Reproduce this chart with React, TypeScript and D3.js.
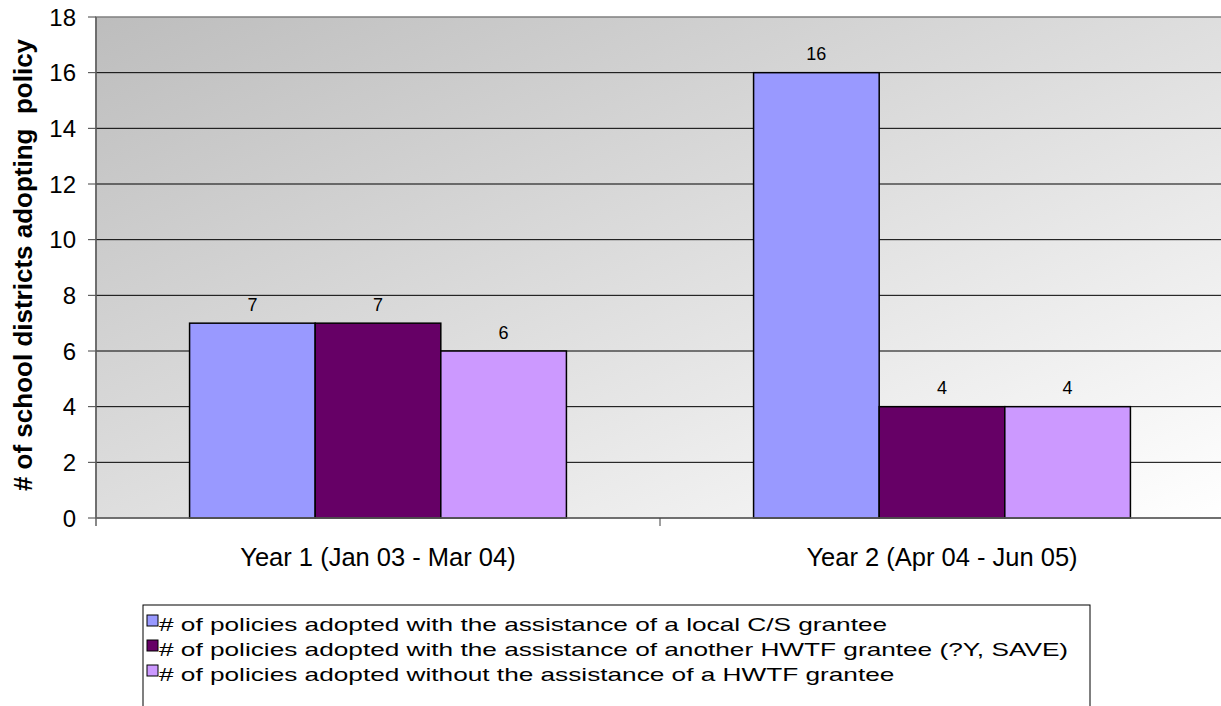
import React from "react";
import * as d3 from "d3";

const categories = ["Year 1 (Jan 03 - Mar 04)", "Year 2 (Apr 04 - Jun 05)"];
const seriesNames = [
  "# of policies adopted with the assistance of a local C/S grantee",
  "# of policies adopted with the assistance of another HWTF grantee (?Y, SAVE)",
  "# of policies adopted without the assistance of a HWTF grantee",
];
const seriesColors = ["#9999FF", "#660066", "#CC99FF"];
const localGrantee = [7, 16];
const otherGrantee = [7, 4];
const noGrantee = [6, 4];
const yTicks = [0, 2, 4, 6, 8, 10, 12, 14, 16, 18];
const yTitle = "# of school districts adopting  policy";

const W = 1221;
const H = 706;
const font = "Arial, 'Liberation Sans', sans-serif";

export default function App() {
  const x0 = 96;
  const x1 = 1224;
  const yTop = 17;
  const yBot = 518;
  const series = [localGrantee, otherGrantee, noGrantee];

  const xScale = d3.scaleBand<string>().domain(categories).range([x0, x1]).paddingInner(0).paddingOuter(0);
  const inner = d3
    .scaleBand<number>()
    .domain([0, 1, 2])
    .range([0, xScale.bandwidth()])
    .paddingOuter(0.745)
    .paddingInner(0);
  const yScale = d3.scaleLinear().domain([0, 18]).range([yBot, yTop]);

  return (
    <svg
      width={W}
      height={H}
      style={{ position: "absolute", left: 0, top: 0, background: "#fff" }}
      fontFamily={font}
    >
      <defs>
        <linearGradient id="bg" x1="0" y1="0" x2="1" y2="1">
          <stop offset="0" stopColor="#bdbdbd" />
          <stop offset="1" stopColor="#ffffff" />
        </linearGradient>
      </defs>
      <rect x={x0} y={yTop} width={x1 - x0} height={yBot - yTop} fill="url(#bg)" stroke="#808080" strokeWidth={1.5} />
      {yTicks.map((t) => (
        <g key={t}>
          {t > 0 && t < 18 && (
            <line x1={x0} x2={x1} y1={yScale(t)} y2={yScale(t)} stroke="#000" strokeWidth={1} />
          )}
          <line x1={88} x2={x0} y1={yScale(t)} y2={yScale(t)} stroke="#404040" strokeWidth={1} />
          <text x={76} y={yScale(t)} dy="0.36em" textAnchor="end" fontSize={24} fill="#000">
            {t}
          </text>
        </g>
      ))}
      {categories.map((c, ci) =>
        series.map((s, si) => {
          const bx = (xScale(c) as number) + (inner(si) as number);
          const by = yScale(s[ci]);
          return (
            <g key={`${ci}-${si}`}>
              <rect
                x={bx}
                y={by}
                width={inner.bandwidth()}
                height={yBot - by}
                fill={seriesColors[si]}
                stroke="#000"
                strokeWidth={1.5}
              />
              <text
                x={bx + inner.bandwidth() / 2}
                y={by - 12.5}
                textAnchor="middle"
                fontSize={18}
                fill="#000"
              >
                {s[ci]}
              </text>
            </g>
          );
        })
      )}
      <line x1={x0} x2={x1} y1={yBot} y2={yBot} stroke="#606060" strokeWidth={1.5} />
      <line x1={x0} x2={x0} y1={yTop} y2={yBot + 8} stroke="#606060" strokeWidth={1.5} />
      {categories.map((c, ci) => (
        <g key={c}>
          {ci > 0 && (
            <line x1={xScale(c)} x2={xScale(c)} y1={yBot} y2={yBot + 8} stroke="#404040" strokeWidth={1} />
          )}
          <text
            x={(xScale(c) as number) + xScale.bandwidth() / 2}
            y={566}
            textAnchor="middle"
            fontSize={25.5}
            fill="#000"
          >
            {c}
          </text>
        </g>
      ))}
      <text
        transform={`translate(32, ${265}) rotate(-90)`}
        textAnchor="middle"
        fontSize={26}
        fontWeight="bold"
        fill="#000"
        style={{ whiteSpace: "pre" }}
      >
        {yTitle}
      </text>
      <rect x={143} y={605} width={947} height={110} fill="#fff" stroke="#000" strokeWidth={1} />
      {seriesNames.map((n, i) => (
        <g key={n}>
          <rect x={147} y={615 + i * 25} width={11} height={11} fill={seriesColors[i]} stroke="#000" strokeWidth={1} />
          <text
            transform={`translate(159, ${631 + i * 25}) scale(1.38, 1)`}
            fontSize={19}
            fill="#000"
          >
            {n}
          </text>
        </g>
      ))}
    </svg>
  );
}
